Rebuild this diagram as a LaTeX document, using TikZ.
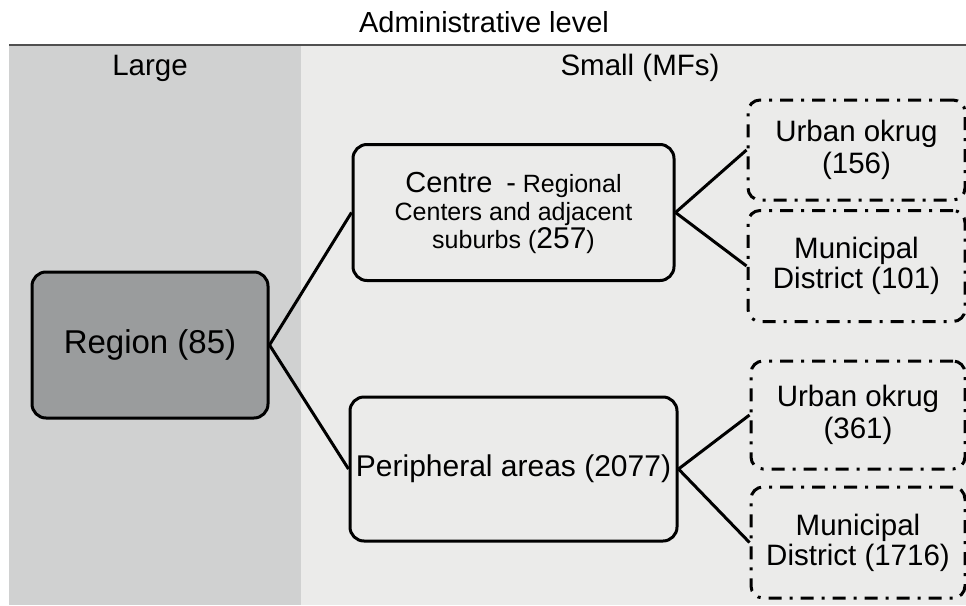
\documentclass[tikz,border=0pt]{standalone}
\usepackage{fontspec}
\setmainfont{Liberation Sans}
\definecolor{largebg}{HTML}{D0D1D1}
\definecolor{smallbg}{HTML}{EBEBEA}
\definecolor{regfill}{HTML}{9A9C9D}
\definecolor{topline}{HTML}{505050}
\newcommand{\fs}[2]{\fontsize{#1}{#2}\selectfont}
\tikzset{
  solidbox/.style={draw=black, line width=3pt, rounded corners=14pt, inner sep=0pt, align=center, fill=smallbg},
  dashbox/.style={draw=black, line width=3pt, rounded corners=12pt, inner sep=0pt, align=center,
     dash pattern=on 13pt off 8pt on 3pt off 8pt},
  link/.style={draw=black, line width=3pt},
  lbl/.style={inner sep=0pt, align=center}
}
\begin{document}
\begin{tikzpicture}[x=1pt,y=-1pt]
\useasboundingbox (0,0) rectangle (966,605);
\fill[white] (0,0) rectangle (966,605);
% panels
\fill[largebg] (9,45) rectangle (301,605);
\fill[smallbg] (301,45) rectangle (966,605);
\draw[topline, line width=2pt] (9,45) -- (966,45);
% headings
\node[lbl, font=\fs{29}{32}, anchor=base] (title) at (484,32) {Administrative level};
\node[lbl, font=\fs{29.5}{32}, anchor=base] (large) at (150,75) {Large};
\node[lbl, font=\fs{29.5}{32}, anchor=base] (small) at (640,75) {Small (MFs)};
% boxes
\node[solidbox, fill=regfill, minimum width=236pt, minimum height=146pt, font=\fs{33}{36}] (reg) at (150,345) {Region (85)};
\node[solidbox, minimum width=321pt, minimum height=136pt, font=\fs{25}{28}] (cen) at (513.5,212.5)
  {{\fs{29}{28}Centre}\ \ {\fs{29}{28}-} Regional\\Centers and adjacent\\suburbs ({\fs{30}{28}257})};
\node[solidbox, minimum width=327pt, minimum height=144pt, font=\fs{30}{32}] (per) at (513.5,469)
  {Peripheral areas (2077)};
\node[dashbox, minimum width=217pt, minimum height=100pt, font=\fs{29.5}{32}] (u1) at (856.5,150) {Urban okrug\\(156)};
\node[dashbox, minimum width=217pt, minimum height=111pt, font=\fs{29.5}{30}] (m1) at (856.5,266) {Municipal\\District (101)};
\node[dashbox, minimum width=214pt, minimum height=108pt, font=\fs{29.5}{32}] (u2) at (858,415) {Urban okrug\\(361)};
\node[dashbox, minimum width=214pt, minimum height=111pt, font=\fs{29.5}{30}] (m2) at (858,542.5) {Municipal\\District (1716)};
% connectors
\draw[link] (reg.east) -- (cen.west);
\draw[link] (reg.east) -- (per.west);
\draw[link] (cen.east) -- (u1.west);
\draw[link] (cen.east) -- (m1.west);
\draw[link] (per.east) -- (u2.west);
\draw[link] (per.east) -- (m2.west);
\end{tikzpicture}
\end{document}
